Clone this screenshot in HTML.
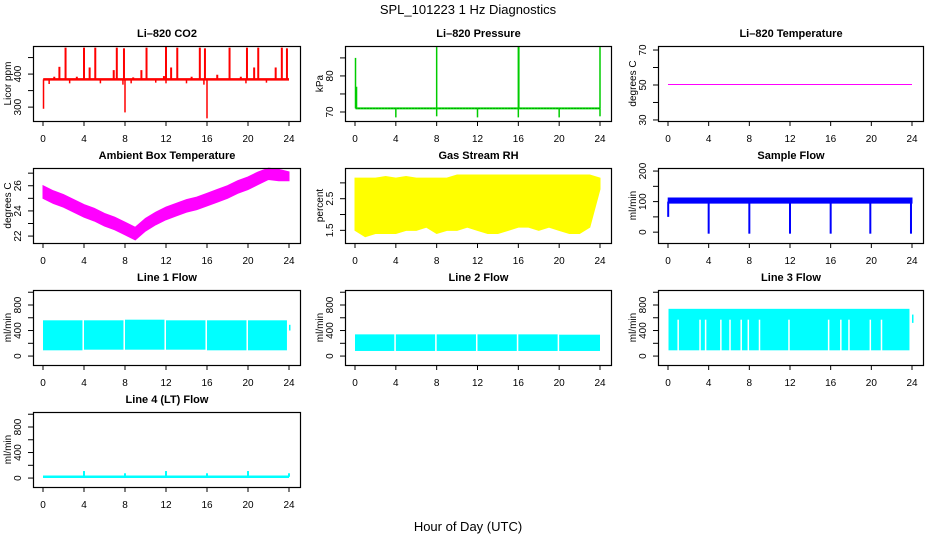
<!DOCTYPE html>
<html><head><meta charset="utf-8"><style>
html,body{margin:0;padding:0;background:#fff;}
svg{display:block;font-family:"Liberation Sans",sans-serif;}
</style></head><body>
<svg id="chart" width="936" height="540" viewBox="0 0 936 540" xmlns="http://www.w3.org/2000/svg">
<text x="468" y="14" text-anchor="middle" font-size="13">SPL_101223  1 Hz Diagnostics</text>
<text x="468" y="531" text-anchor="middle" font-size="13">Hour of Day (UTC)</text>
</svg>
<script>
// ---- data ----
const xTicks = [0, 4, 8, 12, 16, 20, 24];
const co2Base = 384;
const co2SpikeHours = [2.2, 4.0, 5.1, 7.2, 7.9, 10.1, 12.0, 13.1, 15.3, 15.8, 18.2, 19.9, 21.0, 23.3, 23.8, 1.6, 4.55, 6.9, 9.6, 12.5, 20.6, 22.7, 1.1, 3.3, 8.8, 11.8, 14.5, 17.0, 19.3];
const co2SpikeVals = [480, 480, 480, 480, 478, 480, 482, 480, 480, 478, 480, 480, 480, 480, 478, 422, 420, 412, 412, 420, 420, 420, 392, 392, 390, 394, 392, 398, 392];
const co2DipHours = [0.05, 8.0, 16.0, 0.6, 2.6, 5.6, 7.8, 8.6, 11.0, 12.0, 14.0, 15.7, 19.8, 21.8];
const co2DipVals = [295, 284, 266, 370, 372, 372, 368, 372, 374, 372, 372, 368, 372, 374];
const presBase = 71;
const presSpikeHours = [0.05, 0.15, 8.0, 16.0, 16.05, 24.0];
const presSpikeVals = [85, 77, 88, 88, 88, 88];
const presDipHours = [4, 8, 12, 16, 20, 24];
const presDipVals = [68.5, 68.8, 68.5, 68.5, 68.5, 68.8];
const tempHours = [0, 24];
const tempVals = [50.3, 50.3];
const ambHours = [0, 1, 2, 3, 4, 5, 6, 7, 8, 9, 10, 11, 12, 13, 14, 15, 16, 17, 18, 19, 20, 21, 22, 23, 24];
const ambLo = [25.0, 24.6, 24.3, 23.9, 23.5, 23.2, 22.8, 22.5, 22.1, 21.7, 22.4, 22.9, 23.3, 23.6, 23.9, 24.1, 24.4, 24.7, 25.0, 25.4, 25.7, 26.1, 26.5, 26.4, 26.4];
const ambHi = [26.0, 25.6, 25.3, 24.9, 24.5, 24.2, 23.8, 23.5, 23.1, 22.7, 23.4, 23.9, 24.3, 24.6, 24.9, 25.1, 25.4, 25.7, 26.0, 26.4, 26.7, 27.1, 27.4, 27.3, 27.1];
const rhHours = [0, 1, 2, 3, 4, 5, 6, 7, 8, 9, 10, 11, 12, 13, 14, 15, 16, 17, 18, 19, 20, 21, 22, 23, 24];
const rhLo = [1.5, 1.3, 1.4, 1.4, 1.4, 1.5, 1.5, 1.6, 1.4, 1.5, 1.5, 1.6, 1.5, 1.4, 1.4, 1.5, 1.6, 1.6, 1.5, 1.6, 1.5, 1.4, 1.4, 1.6, 2.8];
const rhHi = [3.15, 3.15, 3.15, 3.2, 3.15, 3.2, 3.15, 3.15, 3.15, 3.15, 3.25, 3.25, 3.25, 3.25, 3.25, 3.25, 3.25, 3.25, 3.25, 3.25, 3.25, 3.25, 3.25, 3.25, 3.15];
const sfHours = [0.02, 24.0];
const sfLo = [95, 95];
const sfHi = [112, 112];
const sfDipHours = [0.02, 4.0, 8.0, 12.0, 16.0, 19.9, 23.9];
const sfDipVals = [50, -5, -5, -5, -5, -5, -5];
const l1Start = [0.0, 4.0, 8.0, 12.0, 16.0, 20.0];
const l1End = [3.85, 7.85, 11.85, 15.85, 19.85, 23.8];
const l1Lo = [90, 100, 100, 100, 90, 90];
const l1Hi = [560, 560, 570, 560, 560, 560];
const l2Start = [0.0, 4.0, 8.0, 12.0, 16.0, 20.0];
const l2End = [3.85, 7.85, 11.85, 15.85, 19.85, 24.0];
const l2Lo = [80, 80, 80, 80, 80, 80];
const l2Hi = [340, 340, 340, 340, 340, 335];
const l3Start = [0.05, 24.0];
const l3End = [23.75, 24.1];
const l3Lo = [90, 520];
const l3Hi = [740, 650];
const l3GapHours = [1.0, 3.15, 3.7, 5.2, 6.1, 7.2, 7.9, 9.0, 11.9, 15.8, 17.0, 17.8, 19.9, 21.0];
const l4Hours = [0, 24];
const l4Vals = [20, 20];
const l4SpikeHours = [4, 8, 12, 16, 20, 24];
const l4SpikeVals = [110, 75, 110, 75, 110, 75];

// ---- layout ----
const colL = [33, 345, 658], colR = [301, 612, 924];
const rowT = [46, 168, 290, 412], rowH = 75;
const svg = document.getElementById('chart');
const NS = 'http://www.w3.org/2000/svg';
function mk(tag, attrs, parent) {
  const e = document.createElementNS(NS, tag);
  for (const k in attrs) e.setAttribute(k, attrs[k]);
  (parent || svg).appendChild(e);
  return e;
}
function panel(col, row, title, ylab, ymin, ymax, ticks, labels, name) {
  const L = colL[col], R = colR[col], T = rowT[row], B = T + rowH;
  const g = mk('g', {});
  
  
  const x = h => L + 10 + (h / 24) * (R - L - 22);
  const y = v => B - (v - ymin) / (ymax - ymin) * rowH;
  const t = mk('text', { x: (L + R) / 2, y: T - 9, 'text-anchor': 'middle', 'font-size': 11, 'font-weight': 'bold' }, g);
  t.textContent = title;
  
  
  const yl = mk('text', { x: 0, y: 0, transform: `translate(${L - 22},${(T + B) / 2}) rotate(-90)`, 'text-anchor': 'middle', 'font-size': 10 }, g);
  yl.textContent = ylab;
  
  
  const plot = mk('g', {}, g);
  
  
  const axes = mk('g', {}, g);
  
  
  mk('rect', { x: L + 0.5, y: T + 0.5, width: R - L - 1, height: rowH, fill: 'none', stroke: '#000', 'stroke-width': 1.2 }, axes);
  xTicks.forEach(h => {
    mk('line', { x1: x(h), x2: x(h), y1: B, y2: B + 5, stroke: '#000' }, axes);
    const tx = mk('text', { x: x(h), y: B + 21, 'text-anchor': 'middle', 'font-size': 10 }, axes);
    tx.textContent = h;
  });
  ticks.forEach(v => {
    mk('line', { x1: L - 5, x2: L, y1: y(v), y2: y(v), stroke: '#000' }, axes);
  });
  labels.forEach(v => {
    const tx = mk('text', { x: 0, y: 0, transform: `translate(${L - 12},${y(v)}) rotate(-90)`, 'text-anchor': 'middle', 'font-size': 10 }, axes);
    tx.textContent = v;
  });
  return { x, y, g: plot, T, B };
}
function band(p, hours, lo, hi, color) {
  let d = '';
  hours.forEach((h, i) => { d += (i ? 'L' : 'M') + p.x(h) + ',' + p.y(hi[i]); });
  for (let i = hours.length - 1; i >= 0; i--) d += 'L' + p.x(hours[i]) + ',' + p.y(lo[i]);
  const e = mk('path', { d: d + 'Z', fill: color, stroke: color, 'stroke-width': 1 }, p.g);
  
  
}
function blocks(p, st, en, lo, hi, color) {
  st.forEach((s, i) => {
    const e = mk('rect', { x: p.x(s), y: p.y(hi[i]), width: Math.max(1.5, p.x(en[i]) - p.x(s)), height: p.y(lo[i]) - p.y(hi[i]), fill: color }, p.g);
    
    
  });
}
function spikes(p, hours, vals, base, color, w) {
  hours.forEach((h, i) => {
    const e = mk('line', { x1: p.x(h), x2: p.x(h), y1: p.y(base), y2: p.y(vals[i]), stroke: color, 'stroke-width': w }, p.g);
    
    
  });
}
function line(p, hours, vals, color, w, dash) {
  const pts = hours.map((h, i) => p.x(h) + ',' + p.y(vals[i])).join(' ');
  const e = mk('polyline', { points: pts, fill: 'none', stroke: color, 'stroke-width': w }, p.g);
  if (dash) e.setAttribute('stroke-dasharray', dash);
  
  
}

// CO2
let p = panel(0, 0, 'Li\u2013820 CO2', 'Licor ppm', 258, 485, [300, 350, 400, 450], [300, 400], 'co2');
line(p, [0.02, 24], [co2Base, co2Base], '#ff0000', 2.5);
spikes(p, co2SpikeHours, co2SpikeVals, co2Base, '#ff0000', 2);
spikes(p, co2DipHours, co2DipVals, co2Base, '#ff0000', 1.5);
// Pressure
p = panel(1, 0, 'Li\u2013820 Pressure', 'kPa', 67.5, 88.3, [70, 75, 80, 85], [70, 80], 'pressure');
line(p, [0.05, 24], [presBase, presBase], '#00dd00', 2);
line(p, [0.05, 24], [presBase, presBase], '#006600', 1, '1,2');
spikes(p, presSpikeHours, presSpikeVals, presBase, '#00cc00', 1.5);
spikes(p, presDipHours, presDipVals, presBase, '#00cc00', 1.5);
// Temperature
p = panel(2, 0, 'Li\u2013820 Temperature', 'degrees C', 29.4, 72.3, [30, 40, 50, 60, 70], [30, 50, 70], 'li820-temp');
line(p, tempHours, tempVals, '#ff00ff', 1);
// Ambient
p = panel(0, 1, 'Ambient Box Temperature', 'degrees C', 21.45, 27.41, [22, 23, 24, 25, 26, 27], [22, 24, 26], 'ambient');
band(p, ambHours, ambLo, ambHi, '#ff00ff');
// RH
p = panel(1, 1, 'Gas Stream RH', 'percent', 1.1, 3.47, [1.5, 2, 2.5, 3], [1.5, 2.5], 'rh');
band(p, rhHours, rhLo, rhHi, '#ffff00');
// Sample flow
p = panel(2, 1, 'Sample Flow', 'ml/min', -35.5, 210, [0, 50, 100, 150, 200], [0, 100, 200], 'sample-flow');
band(p, sfHours, sfLo, sfHi, '#0000ff');
spikes(p, sfDipHours, sfDipVals, 100, '#0000ff', 2);
// Line 1
const flowTicks = [0, 200, 400, 600, 800, 1000], flowLabels = [0, 400, 800];
p = panel(0, 2, 'Line 1 Flow', 'ml/min', -140, 1035, flowTicks, flowLabels, 'line1-flow');
blocks(p, l1Start, l1End, l1Lo, l1Hi, '#00ffff');
blocks(p, [24.0], [24.05], [400], [490], '#00ffff');
// Line 2
p = panel(1, 2, 'Line 2 Flow', 'ml/min', -140, 1035, flowTicks, flowLabels, 'line2-flow');
blocks(p, l2Start, l2End, l2Lo, l2Hi, '#00ffff');
// Line 3
p = panel(2, 2, 'Line 3 Flow', 'ml/min', -140, 1035, flowTicks, flowLabels, 'line3-flow');
blocks(p, l3Start, l3End, l3Lo, l3Hi, '#00ffff');
l3GapHours.forEach(h => {
  const e = mk('line', { x1: p.x(h), x2: p.x(h), y1: p.y(80), y2: p.y(570), stroke: '#fff', 'stroke-width': 1.5 }, p.g);
  
  
});
// Line 4
p = panel(0, 3, 'Line 4 (LT) Flow', 'ml/min', -140, 1035, flowTicks, flowLabels, 'line4-flow');
line(p, l4Hours, l4Vals, '#00ffff', 2.5);
spikes(p, l4SpikeHours, l4SpikeVals, 20, '#00ffff', 2);
</script>
</body></html>
